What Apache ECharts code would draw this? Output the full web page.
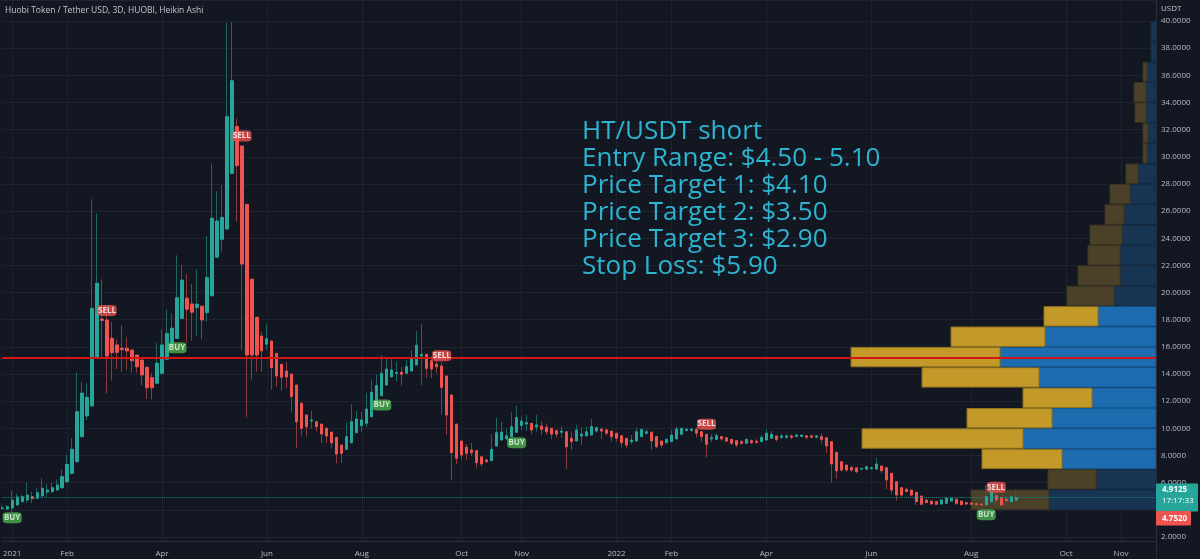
<!DOCTYPE html>
<html><head><meta charset="utf-8">
<script src="https://cdn.jsdelivr.net/npm/echarts@6/dist/echarts.min.js"></script>
<style>html,body{margin:0;padding:0;background:#131722;}#c{width:1200px;height:559px;}</style>
</head><body><div id="c"></div>
<script>
// ---------- DATA ----------
const opens = [4.10,4.06,4.13,4.36,4.60,4.72,4.97,4.85,5.02,5.31,
5.34,5.46,5.63,6.07,6.69,7.55,9.39,10.91,11.65,15.2,
18.05,17.98,16.63,16.14,15.9,15.9,15.77,15.4,15.03,14.5,
13.73,13.32,14.05,15.08,16.14,16.63,18.1,19.58,19.16,18.89,
19.0,18.52,19.77,22.6,23.92,24.68,28.78,32.22,30.79,26.5,
20.99,18.18,16.8,16.2,16.43,15.52,14.72,14.22,14.0,13.19,
11.85,10.98,10.54,10.49,10.32,10.0,9.73,9.34,8.77,8.46,
8.94,9.68,10.2,10.37,10.86,11.72,12.4,13.19,13.8,14.05,
14.13,14.05,14.22,14.67,15.33,15.45,14.98,14.72,14.59,13.86,
12.46,10.32,9.07,8.61,8.41,8.36,7.91,7.67,7.62,8.7,
9.14,9.24,9.39,9.71,10.2,10.32,10.37,10.1,10.17,10.08,
10.0,9.83,9.71,9.75,9.27,9.07,9.44,9.44,9.51,9.8,
9.93,9.88,9.8,9.64,9.46,9.27,9.02,9.07,9.39,9.64,
9.71,9.39,9.07,8.94,9.02,9.22,9.56,9.83,9.85,9.93,
9.75,9.56,9.22,9.19,9.39,9.31,9.19,9.09,9.02,8.9,
9.09,9.05,9.02,9.14,9.27,9.44,9.34,9.34,9.44,9.39,
9.4,9.45,9.45,9.35,9.39,9.31,9.02,8.24,7.55,7.3,
7.13,7.1,7.0,6.99,7.02,7.0,7.23,7.1,6.69,6.07,
5.63,5.51,5.46,5.29,5.02,4.72,4.65,4.6,4.43,4.48,
4.65,4.78,4.65,4.53,4.5,4.45,4.43,4.36,4.6,5.04,
4.92,4.78,4.6,4.72];
const closes = [4.15,4.23,4.72,4.95,4.97,5.09,4.82,5.26,5.59,5.46,
5.63,5.83,6.44,7.35,8.46,11.23,12.6,12.29,18.84,20.68,
17.95,15.33,15.57,15.6,15.79,15.7,14.98,14.54,13.93,12.99,
12.99,14.8,16.14,17.0,17.37,19.62,20.92,18.77,18.55,19.14,
17.98,21.1,25.47,25.27,25.54,32.95,35.6,29.35,22.1,15.4,
15.4,15.4,15.7,16.6,14.47,13.86,13.76,13.78,12.33,10.49,
10.0,10.12,10.62,10.12,9.58,9.44,8.94,8.11,8.16,9.39,
10.49,10.69,10.62,11.43,12.66,13.15,14.05,14.37,14.3,14.13,
13.98,14.54,15.1,16.12,15.45,14.42,14.37,14.54,13.02,10.98,
8.21,7.8,8.04,8.16,8.21,7.47,7.38,7.55,8.46,9.68,
9.73,9.45,10.12,10.79,10.54,10.42,9.88,10.25,9.93,9.75,
9.58,9.58,9.8,8.65,9.02,9.88,9.58,9.75,10.12,10.05,
9.8,9.64,9.39,9.27,8.94,8.77,9.14,9.75,9.93,9.75,
9.07,8.65,8.77,9.19,9.51,9.95,10.0,9.93,9.95,9.64,
9.39,8.83,9.31,9.46,9.22,9.07,8.9,8.77,8.9,9.19,
8.94,8.98,9.34,9.64,9.56,9.19,9.44,9.44,9.34,9.51,
9.5,9.35,9.35,9.45,9.19,8.7,7.38,6.88,6.93,6.93,
6.93,6.81,7.05,7.18,7.1,7.38,6.88,6.2,5.46,5.09,
5.09,5.34,5.09,4.6,4.41,4.53,4.43,4.41,4.72,4.85,
4.85,4.48,4.38,4.43,4.41,4.38,4.36,4.97,5.34,4.72,
4.36,4.67,4.97,4.9125];
const highs = [4.36,4.36,5.39,5.2,5.1,6.0,5.34,5.63,6.32,5.88,
6.0,6.24,6.99,8.04,9.27,14.1,13.44,13.32,26.87,25.84,
20.98,18.47,17.85,16.56,17.6,16.7,15.77,15.4,15.03,14.5,
14.1,16.31,17.29,18.72,18.47,22.74,22.03,21.37,20.63,21.71,
19.0,24.17,29.52,27.48,27.92,39.88,39.9,32.81,30.79,26.5,
20.99,18.18,17.12,17.66,16.43,15.52,14.72,14.86,14.0,13.19,
11.85,11.03,11.3,10.55,10.32,10.1,9.73,9.34,8.77,10.42,
11.79,11.28,11.23,12.58,13.61,13.98,15.4,15.28,15.16,14.91,
14.5,15.03,15.77,17.17,17.68,15.45,15.33,15.03,14.91,13.86,
12.46,10.32,9.07,8.85,8.94,8.36,7.91,7.75,9.56,10.79,
10.49,10.0,11.18,11.65,10.93,10.98,10.37,10.98,10.54,10.37,
10.05,9.9,10.17,9.8,9.75,10.25,10.08,10.12,10.69,10.12,
10.08,10.0,9.8,9.64,9.46,9.27,9.51,10.05,10.0,9.93,
9.8,9.39,9.07,9.27,9.88,10.12,10.08,10.05,10.05,10.05,
9.8,9.56,9.56,9.64,9.39,9.31,9.19,9.09,9.14,9.27,
9.19,9.2,9.5,9.93,9.83,9.44,9.6,9.55,9.55,9.6,
9.55,9.5,9.5,9.5,9.64,9.31,9.02,8.24,7.55,7.3,
7.2,7.1,7.1,7.25,7.18,7.84,7.23,7.1,6.69,6.07,
5.63,5.63,5.46,5.29,5.02,4.78,4.65,4.6,4.8,4.97,
4.92,4.85,4.65,4.6,4.53,4.45,4.43,5.83,5.83,5.34,
4.92,4.97,5.04,5.46];
const lows = [4.0,3.98,3.86,4.3,4.55,4.5,4.5,4.8,4.97,4.97,
5.25,5.4,5.55,5.95,6.6,7.45,9.3,10.62,11.6,15.15,
15.27,12.58,13.51,14.35,14.17,14.3,14.1,14.1,13.19,12.14,
12.14,13.32,14.05,15.08,16.1,16.6,18.05,16.31,16.46,16.8,
16.56,17.85,19.7,22.6,23.0,24.6,28.7,25.22,15.77,10.8,
13.61,14.17,14.17,15.77,12.82,13.07,12.77,12.99,11.23,8.53,
9.39,9.39,9.95,9.75,8.94,8.9,8.53,7.43,7.47,8.46,
8.9,9.65,9.75,10.12,10.8,11.7,12.4,13.15,13.75,13.44,
13.15,14.0,14.2,14.65,13.19,13.69,13.69,14.05,11.03,9.51,
6.2,7.38,7.67,7.67,7.96,7.06,7.18,7.45,7.6,8.65,
9.1,9.14,9.35,9.7,9.86,9.8,9.56,9.75,9.51,9.51,
9.19,9.31,9.31,7.0,8.41,9.05,8.77,9.4,9.48,9.7,
9.22,9.46,9.02,9.02,8.6,8.58,8.83,9.02,9.35,9.55,
8.41,8.53,8.58,8.9,9.0,9.2,9.5,9.8,9.75,9.31,
9.02,7.87,8.98,9.15,9.1,8.95,8.77,8.6,8.8,8.85,
8.85,8.85,9.0,9.1,9.25,9.02,9.2,9.25,9.2,9.35,
9.38,9.2,9.25,9.25,8.9,8.16,6.0,6.27,6.81,6.8,
6.8,6.69,6.9,6.95,6.98,6.98,6.69,5.51,5.14,4.67,
4.97,5.28,4.97,4.36,4.36,4.48,4.36,4.36,4.38,4.43,
4.6,4.33,4.33,4.33,4.36,4.36,4.33,4.33,4.56,4.36,
4.3,4.5,4.55,4.7];

const slotCount = 232;               // bar slots incl. empty future space
const tickIdx  = [2,13,32,53,72,92,104,123,134,153,174,194,213,224];
const tickText = ['2021','Feb','Apr','Jun','Aug','Oct','Nov','2022','Feb','Apr','Jun','Aug','Oct','Nov'];

const sigType  = ['BUY','SELL','BUY','SELL','BUY','SELL','BUY','SELL','BUY','SELL'];
const sigIdx   = [2,21,35,48,76,88,103,141,197,199];
const sigPrice = [3.42,18.68,15.94,31.53,11.72,15.35,8.94,10.31,3.64,5.66];

// volume profile rows (price low of each 1.5 row), up / down volume
const vpLow  = [4,5.5,7,8.5,10,11.5,13,14.5,16,17.5,19,20.5,22,23.5,25,26.5,28,29.5,31,32.5,34,35.5,37,38.5];
const vpStep = 1.5;
const vpUp   = [107,60,94,133,104,64,117,156,111,58,42,36,36,34,32,26,18,9,8,10,10,9,5,5];
const vpDown = [78,48,80,161,85,69,117,149,94,54,47,42,32,32,19,20,12,4,5,11,12,4,0,0];
const vpValueArea = [0,0,1,1,1,1,1,1,1,1,0,0,0,0,0,0,0,0,0,0,0,0,0,0];

const resistance = 15.2;
const lastPrice = 4.9125;
const lastPriceTime = '17:17:33';
const haClosePrice = 4.7520;

const noteLines = ['HT/USDT short','Entry Range: $4.50 - 5.10','Price Target 1: $4.10',
  'Price Target 2: $3.50','Price Target 3: $2.90','Stop Loss: $5.90'];

// ---------- CHART ----------
const UP='#26a69a', DN='#ef5350', UPW='#1d6661', DNW='#8a3a3d';
const categories = []; for (let i = 0; i < slotCount; i++) categories.push(String(i));
const tickSet = new Set(tickIdx);
const ohlc = opens.map((o,i)=>[o, closes[i], lows[i], highs[i]]);
const bodies = opens.map((o,i)=>[o, closes[i], Math.min(o,closes[i]), Math.max(o,closes[i])]);
const vpData = vpLow.map((l,i)=>[l, l+vpStep, vpUp[i], vpDown[i], vpValueArea[i]]);
const buys = [], sells = [];
sigType.forEach((t,i)=>{ (t==='BUY'?buys:sells).push([String(sigIdx[i]), sigPrice[i]]); });

const chart = echarts.init(document.getElementById('c'), null, {renderer:'canvas'});
const axisTxt = '#b8bbc4', gridC = '#1f2330', lineC = '#2a2e39';
chart.setOption({
  backgroundColor:'#131722',
  animation:false,
  textStyle:{fontFamily:'Open Sans'},
  title:{text:'Huobi Token / Tether USD, 3D, HUOBI, Heikin Ashi', left:5, top:6, padding:0,
    textStyle:{color:'#c3c6ce', fontSize:8.5, fontWeight:'normal', fontFamily:'Open Sans'}},
  grid:{left:2, right:44, top:0, bottom:18},
  xAxis:[{
    type:'category', data:categories, boundaryGap:false,
    axisLine:{show:true, lineStyle:{color:lineC}}, axisTick:{show:false},
    axisLabel:{interval:(i)=>tickSet.has(i), formatter:(v,i)=>tickText[tickIdx.indexOf(+v)]||'',
      color:axisTxt, fontSize:8, margin:9},
    splitLine:{show:true, interval:(i)=>tickSet.has(i), lineStyle:{color:gridC, width:1}}
  },{
    type:'value', gridIndex:0, min:0, max:1154, inverse:true, show:false
  }],
  yAxis:[{
    type:'value', position:'right', min:1.7054, max:41.543, splitNumber:20, minInterval:2, maxInterval:2,
    axisLine:{show:true, lineStyle:{color:lineC}}, axisTick:{show:false},
    axisLabel:{showMinLabel:false, showMaxLabel:false, color:axisTxt, fontSize:8, margin:5,
      formatter:(v)=>v.toFixed(4)},
    splitLine:{show:true, lineStyle:{color:gridC, width:1}}
  }],
  series:[
    { type:'custom', name:'Volume profile', xAxisIndex:1, yAxisIndex:0, z:1, silent:true,
      data:vpData, encode:{x:[2,3], y:[0,1]},
      renderItem:(params, api)=>{
        const lo=api.value(0), hi=api.value(1), up=api.value(2), dn=api.value(3), va=api.value(4);
        const pR = api.coord([0, lo]), pT = api.coord([0, hi]);
        const xb = api.coord([up, lo])[0], xg = api.coord([up+dn, lo])[0];
        const y = pT[1]+0.5, h = pR[1]-pT[1]-1;
        const blue = va ? '#1c6caf' : '#173553', gold = va ? '#c39a2a' : '#4a4128';
        const bS = va ? '#175a93' : '#152d46', gS = va ? '#8f721f' : '#3b3422';
        return {type:'group', children:[
          {type:'rect', shape:{x:xb, y:y, width:pR[0]-xb, height:h}, style:{fill:blue, stroke:bS, lineWidth:1}},
          {type:'rect', shape:{x:xg, y:y, width:Math.max(0,xb-xg), height:h}, style:{fill:gold, stroke:gS, lineWidth:dn>0?1:0}}
        ]};
      }},
    { type:'candlestick', name:'HA wicks', data:ohlc, barWidth:1, z:2, silent:true,
      itemStyle:{color:UPW, color0:DNW, borderColor:UPW, borderColor0:DNW, borderWidth:1}},
    { type:'candlestick', name:'HA bodies', data:bodies, barWidth:2.7, z:3, silent:true,
      itemStyle:{color:UP, color0:DN, borderColor:UP, borderColor0:DN, borderWidth:1},
      markLine:{silent:true, symbol:'none', label:{show:false}, animation:false, z:6,
        data:[
          {yAxis:resistance, lineStyle:{color:'#d31515', width:2, type:'solid'}},
          {yAxis:lastPrice, lineStyle:{color:'#2a8078', width:1, type:'dotted'}}
        ]}},
    { type:'scatter', name:'BUY', data:buys, symbol:'roundRect', symbolSize:[19,11], z:8, silent:true,
      itemStyle:{color:'#4caf50'},
      label:{show:true, position:'inside', formatter:'BUY', color:'#e8f5e9', fontSize:8, fontWeight:'bold'}},
    { type:'scatter', name:'SELL', data:sells, symbol:'roundRect', symbolSize:[19,11], z:8, silent:true,
      itemStyle:{color:'#f05350'},
      label:{show:true, position:'inside', formatter:'SELL', color:'#ffffff', fontSize:8, fontWeight:'bold'}}
  ]
});

const yCur = chart.convertToPixel({yAxisIndex:0}, lastPrice);
const axisX = chart.convertToPixel({xAxisIndex:1}, 0);
chart.setOption({graphic:[
  {type:'text', left:582, top:118, silent:true, z:100,
    style:{text:noteLines.join('\n'), fill:'#2cb4d1', font:'26px "Open Sans"', lineHeight:27}},
  {type:'text', left:1161, top:5, silent:true, z:100, style:{text:'USDT', fill:'#c3c6ce', font:'8px "Open Sans"'}},
  {type:'line', silent:true, z:100, shape:{x1:axisX+0.5, y1:0, x2:axisX+0.5, y2:559}, style:{stroke:lineC, lineWidth:1}},
  {type:'rect', silent:true, z:100, shape:{x:axisX, y:yCur-14, width:42, height:28, r:1}, style:{fill:'#26a69a'}},
  {type:'text', silent:true, z:101, x:axisX+6, y:yCur-12, style:{text:lastPrice.toFixed(4), fill:'#ffffff', font:'bold 8px "Open Sans"'}},
  {type:'text', silent:true, z:101, x:axisX+6, y:yCur-1, style:{text:lastPriceTime, fill:'#ffffff', font:'8px "Open Sans"'}},
  {type:'rect', silent:true, z:100, shape:{x:axisX, y:yCur+13.5, width:35, height:14.5, r:1}, style:{fill:'#ef5350'}},
  {type:'text', silent:true, z:101, x:axisX+6, y:yCur+17, style:{text:haClosePrice.toFixed(4), fill:'#ffffff', font:'bold 8px "Open Sans"'}}
]});
</script></body></html>
